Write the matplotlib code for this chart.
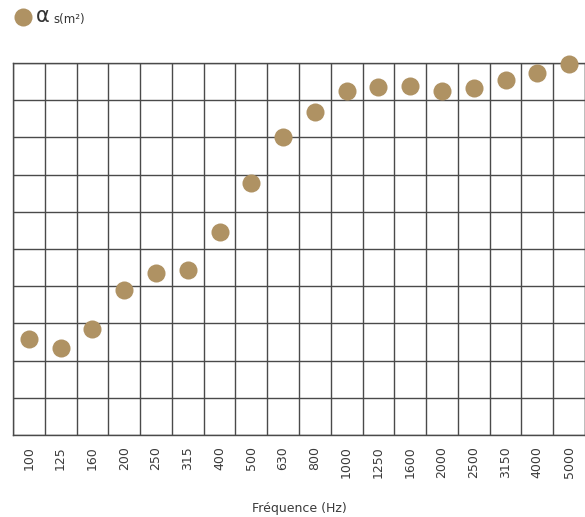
import matplotlib
matplotlib.use("Agg")
import matplotlib.pyplot as plt
from matplotlib.lines import Line2D
import numpy as np

freqs = ["100", "125", "160", "200", "250", "315", "400", "500", "630", "800",
         "1000", "1250", "1600", "2000", "2500", "3150", "4000", "5000"]
alpha = [0.257, 0.235, 0.286, 0.390, 0.436, 0.444, 0.547, 0.677, 0.800, 0.869,
         0.926, 0.935, 0.939, 0.926, 0.934, 0.955, 0.973, 0.997]

plt.rcParams['font.family'] = ['DejaVu Sans']

fig = plt.figure(figsize=(5.85, 5.17), dpi=100)
ax = fig.add_axes([13/585, 1-435/517, 1-13/585, (435-63)/517])

x = np.arange(len(freqs))
ax.plot(x, alpha, 'o', color='#AF9263', markersize=13, markeredgewidth=0, zorder=3, clip_on=False)

ax.set_xlim(-0.5, len(freqs)-0.5)
ax.set_ylim(0, 1)
ax.set_xticks(x)
ax.set_xticklabels(freqs, rotation=90, fontsize=9, color='#3a3a3a')
ax.set_xticks(np.arange(-0.5, len(freqs), 1), minor=True)
ax.set_yticks(np.arange(0, 1.01, 0.1))
ax.set_yticklabels([])
ax.tick_params(axis='both', which='both', length=0)
ax.tick_params(axis='x', pad=8)
ax.grid(True, which='minor', axis='x', color='#4a4a4a', linewidth=1.0)
ax.grid(True, which='major', axis='y', color='#4a4a4a', linewidth=1.0)
ax.grid(False, which='major', axis='x')
for s in ax.spines.values():
    s.set_color('#4a4a4a')
    s.set_linewidth(1.0)

ax.set_xlabel("Fréquence (Hz)", fontsize=9, color='#3a3a3a', labelpad=17)

# legend
fig.add_artist(Line2D([23/585], [1-17/517], marker='o', color='#AF9263', markersize=13,
                      markeredgewidth=0, transform=fig.transFigure))
fig.text(36/585, 1-16/517, "α", fontsize=15, color='#333333', va='center', ha='left')
fig.text(53/585, 1-20/517, "s(m²)", fontsize=8.5, color='#333333', va='center', ha='left')

fig.savefig("out.png", dpi=100)
